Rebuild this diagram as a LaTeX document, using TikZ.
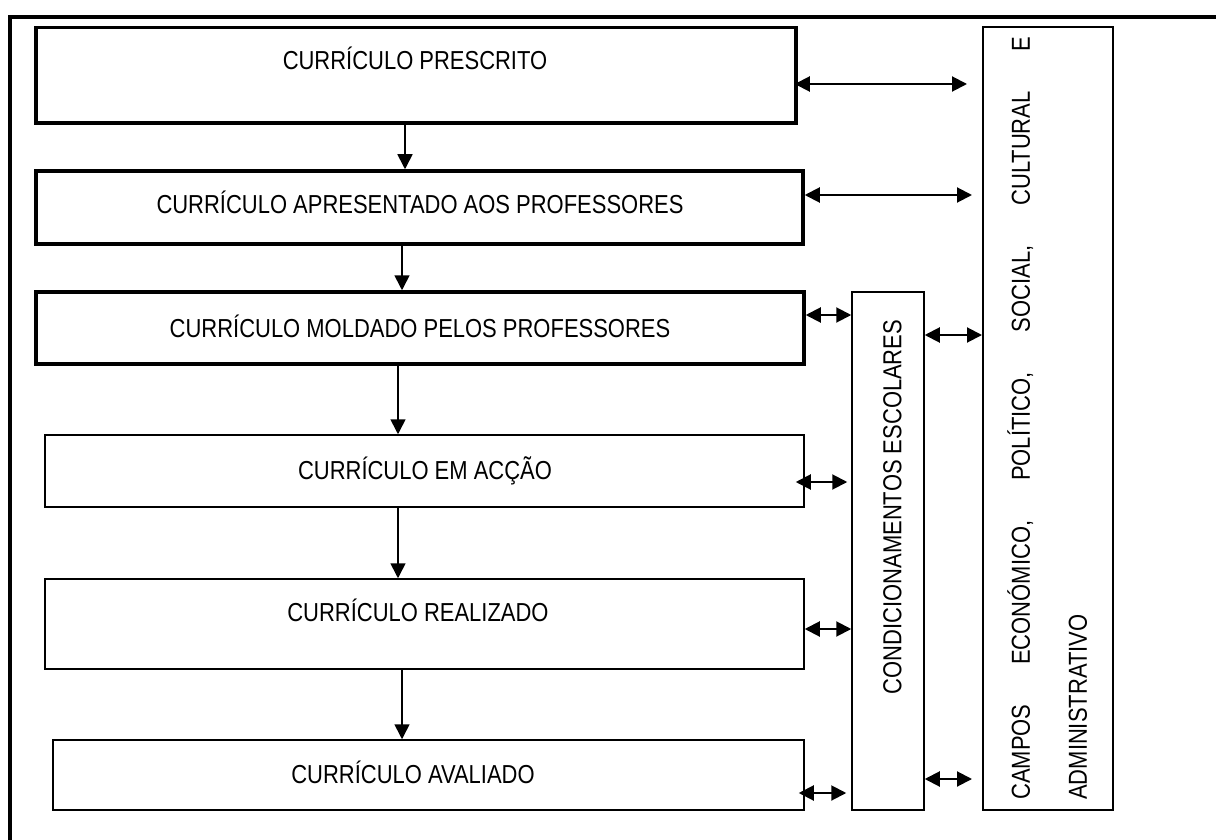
\documentclass[tikz,border=0pt]{standalone}
\usepackage{fontspec}
\setmainfont{Liberation Sans}[FakeStretch=0.845]
\usetikzlibrary{arrows.meta}
\begin{document}
\begin{tikzpicture}[x=1pt,y=-1pt,
  box/.style={draw,rectangle,inner sep=0pt,line width=1.5pt},
  heavy/.style={box,line width=3.5pt},
  lbl/.style={inner sep=0pt,text height=18.5pt,text depth=0pt,font=\fontsize{26}{30}\selectfont},
  down/.style={line width=1.6pt,-{Triangle[length=15pt,width=15pt]}},
  both/.style={line width=2pt,{Triangle[length=15pt,width=15pt]}-{Triangle[length=15pt,width=15pt]}}]
\useasboundingbox (0,0) rectangle (1216,840);
\clip (0,0) rectangle (1216,840);
% outer frame (top and left edges)
\draw[line width=4pt] (10,850) -- (10,17) -- (1230,17);
% stages of the curriculum
\node[heavy,minimum width=760pt,minimum height=95.5pt] (b1) at (416,75.25) {};
\node[heavy,minimum width=767pt,minimum height=73pt] (b2) at (419.5,207.5) {};
\node[heavy,minimum width=768pt,minimum height=72pt] (b3) at (420,328) {};
\node[box,minimum width=759pt,minimum height=72pt] (b4) at (424.5,471) {};
\node[box,minimum width=759pt,minimum height=90pt] (b5) at (424.5,624) {};
\node[box,minimum width=751pt,minimum height=70pt] (b6) at (428.5,775) {};
\node[lbl] (t1) at (415,60) {CURRÍCULO PRESCRITO};
\node[lbl] (t2) at (420,204) {CURRÍCULO APRESENTADO AOS PROFESSORES};
\node[lbl] (t3) at (420,328) {CURRÍCULO MOLDADO PELOS PROFESSORES};
\node[lbl] (t4) at (425,470) {CURRÍCULO EM ACÇÃO};
\node[lbl] (t5) at (418,612) {CURRÍCULO REALIZADO};
\node[lbl] (t6) at (413,774) {CURRÍCULO AVALIADO};
% side columns
\node[box,minimum width=72pt,minimum height=518pt] (cd) at (888,551) {};
\node[lbl,rotate=90] (tcd) at (892,507) {CONDICIONAMENTOS ESCOLARES};
\node[box,line width=2pt,minimum width=130pt,minimum height=783pt] (cp) at (1048,418.5) {};
\node[inner sep=0pt,rotate=90,anchor=north west,align=left,
  font=\fontsize{26}{57}\selectfont] (tcp) at (1007,800)
  {\makebox[763pt][s]{CAMPOS ECONÓMICO, POLÍTICO, SOCIAL, CULTURAL E}\\ADMINISTRATIVO};
% flow between stages
\draw[down] (b1.south -| 405,0) -- (b2.north -| 405,0);
\draw[down] (b2.south -| 402,0) -- (b3.north -| 402,0);
\draw[down] (b3.south -| 398,0) -- (b4.north -| 398,0);
\draw[down] (b4.south -| 398,0) -- (b5.north -| 398,0);
\draw[down] (b5.south -| 402,0) -- (b6.north -| 402,0);
% mutual influences
\draw[both,shorten <=-3pt,shorten >=15pt] (b1.east |- 0,84) -- (cp.west |- 0,84);
\draw[both,shorten >=10pt] (b2.east |- 0,195) -- (cp.west |- 0,195);
\draw[both] (b3.east |- 0,315) -- (cd.west |- 0,315);
\draw[both] (cd.east |- 0,335) -- (cp.west |- 0,335);
\draw[both,shorten <=-9pt,shorten >=4pt] (b4.east |- 0,482) -- (cd.west |- 0,482);
\draw[both] (b5.east |- 0,629) -- (cd.west |- 0,629);
\draw[both,shorten <=-6pt,shorten >=5pt] (b6.east |- 0,793) -- (cd.west |- 0,793);
\draw[both,shorten >=10pt] (cd.east |- 0,779) -- (cp.west |- 0,779);
\end{tikzpicture}
\end{document}
